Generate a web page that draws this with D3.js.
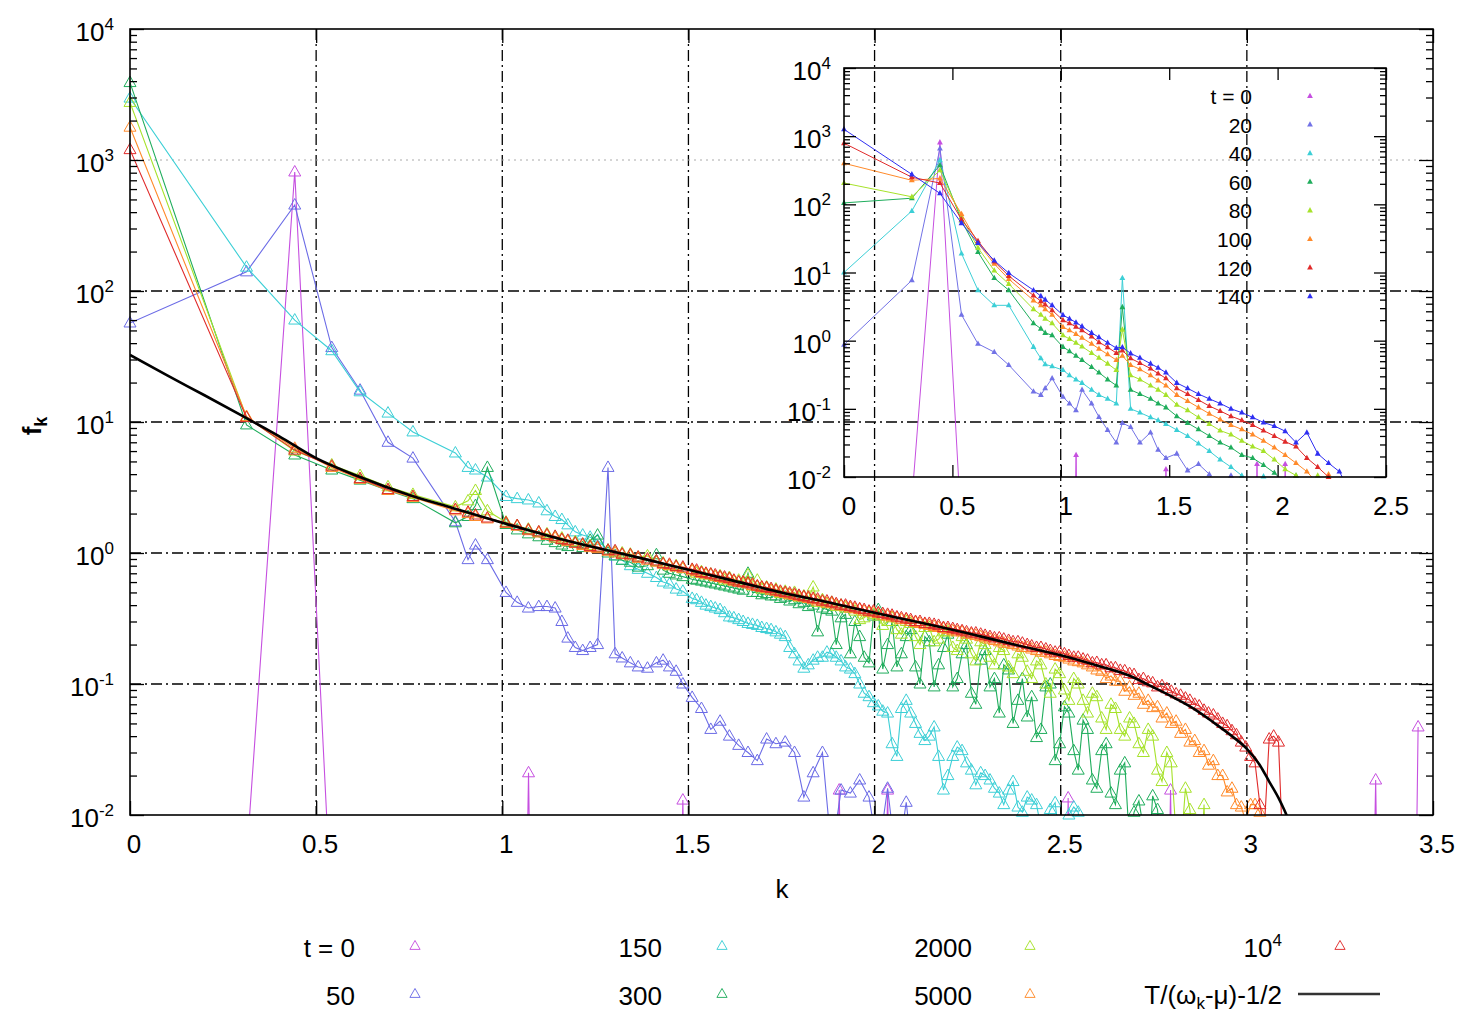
<!DOCTYPE html>
<html>
<head>
<meta charset="utf-8">
<script src="https://cdn.jsdelivr.net/npm/d3@7"></script>
<style>
  body { margin: 0; background: #fff; }
  svg text { font-family: "Liberation Sans", Arial, sans-serif; fill: #000; }
</style>
</head>
<body>
<script>
// momentum values shared by the main-panel series
var mainK = [0, 0.313, 0.4425, 0.542, 0.618, 0.693, 0.760, 0.874, 0.908, 0.928,
  0.960, 1.010, 1.040, 1.070, 1.098, 1.120, 1.142, 1.160, 1.176, 1.196,
  1.216, 1.236, 1.256, 1.284, 1.303, 1.322, 1.344, 1.365, 1.390, 1.414,
  1.432, 1.449, 1.467, 1.485, 1.51, 1.535, 1.56, 1.585, 1.61, 1.635,
  1.66, 1.685, 1.71, 1.735, 1.76, 1.785, 1.81, 1.835, 1.86, 1.885,
  1.91, 1.935, 1.96, 1.985, 2.01, 2.035, 2.06, 2.085, 2.11, 2.135,
  2.16, 2.185, 2.21, 2.235, 2.26, 2.285, 2.31, 2.335, 2.36, 2.385,
  2.41, 2.435, 2.46, 2.485, 2.51, 2.535, 2.56, 2.585, 2.61, 2.635,
  2.66, 2.685, 2.71, 2.735, 2.76, 2.785, 2.81, 2.835, 2.86, 2.885,
  2.91, 2.935, 2.96, 2.985, 3.01, 3.035, 3.06, 3.085, 3.11, 3.135];
// extra momenta in the dense high-k part
var midK = [1.522, 1.547, 1.572, 1.597, 1.622, 1.647, 1.672, 1.697, 1.722, 1.747,
  1.772, 1.797, 1.822, 1.847, 1.872, 1.897, 1.922, 1.947, 1.972, 1.997,
  2.022, 2.047, 2.072, 2.097, 2.122, 2.147, 2.172, 2.197, 2.222, 2.247,
  2.272, 2.297, 2.322, 2.347, 2.372, 2.397, 2.422, 2.447, 2.472, 2.497,
  2.522, 2.547, 2.572, 2.597, 2.622, 2.647, 2.672, 2.697, 2.722, 2.747,
  2.772, 2.797, 2.822, 2.847, 2.872, 2.897, 2.922, 2.947, 2.972, 2.997,
  3.022, 3.047, 3.072, 3.097];

// t = 0 : one occupied mode plus a few tiny spikes (k, f)
var t0Pts = [[0, 0.001], [0.313, 0.0046], [0.4425, 810], [0.542, 0.0016], [0.618, 0.0004],
  [1.06, 0.0003], [1.0705, 0.021], [1.08, 0.0003], [1.475, 0.0003], [1.485, 0.013], [1.495, 0.0003],
  [1.895, 0.0003], [1.905, 0.0155], [1.915, 0.0003], [2.025, 0.0003], [2.035, 0.0155], [2.045, 0.0003],
  [2.51, 0.0003], [2.52, 0.0135], [2.53, 0.0003], [2.785, 0.0003], [2.795, 0.0155], [2.805, 0.0003],
  [3.335, 0.0003], [3.346, 0.0185], [3.355, 0.0003], [3.45, 0.0003], [3.46, 0.047]];

var t50 = [57, 140, 453, 37, 17.5, 7.0, 5.3, 1.73, 0.89, 1.15,
  0.89, 0.5, 0.42, 0.38, 0.39, 0.39, 0.38, 0.30, 0.224, 0.19,
  0.18, 0.19, 0.2, 4.5, 0.17, 0.158, 0.145, 0.135, 0.132, 0.145,
  0.152, 0.135, 0.125, 0.10, 0.079, 0.065, 0.045, 0.052, 0.04, 0.034,
  0.03, 0.026, 0.038, 0.035, 0.036, 0.03, 0.0137, 0.021, 0.03, 0.005,
  0.0155, 0.0147, 0.0185, 0.0137, 0.005, 0.016, 0.004, 0.0125, 0.003, 0.0004];

var t150 = [2970, 152, 60, 35, 17, 11.7, 8.4, 5.8, 4.5, 4.3,
  3.8, 2.7, 2.6, 2.54, 2.41, 2.1, 1.9, 1.8, 1.64, 1.45,
  1.37, 1.32, 1.25, 1.05, 0.95, 0.88, 0.8, 0.75, 0.7, 0.65,
  0.6, 0.58, 0.53, 0.51, 0.45, 0.42, 0.39, 0.37, 0.325, 0.31,
  0.29, 0.28, 0.265, 0.25, 0.23, 0.17, 0.132, 0.152, 0.16, 0.17,
  0.15, 0.13, 0.10, 0.08, 0.068, 0.06, 0.028, 0.075, 0.05, 0.037,
  0.047, 0.0155, 0.028, 0.031, 0.022, 0.021, 0.0185, 0.0147, 0.0155, 0.0115,
  0.0137, 0.012, 0.009, 0.0124, 0.007, 0.0115, 0.004, 0.0004];
var t150b = [0.44, 0.40, 0.38, 0.35, 0.32, 0.30, 0.285, 0.27, 0.26, 0.24,
  0.19, 0.15, 0.14, 0.16, 0.175, 0.16, 0.135, 0.12, 0.085, 0.072,
  0.062, 0.035, 0.065, 0.06, 0.042, 0.04, 0.028, 0.02, 0.033, 0.025,
  0.017, 0.02, 0.016, 0.012, 0.018, 0.0105, 0.013, 0.008, 0.011, 0.0065,
  0.01, 0.0105, 0.0035, 0.0004];

var t300 = [3900, 9.5, 5.6, 4.3, 3.6, 3.0, 2.6, 1.7, 1.9, 2.3,
  4.5, 1.65, 1.5, 1.4, 1.33, 1.25, 1.2, 1.15, 1.12, 1.2,
  1.1, 1.25, 1.37, 1.0, 0.95, 0.88, 0.85, 0.78, 0.8, 0.97,
  0.74, 0.7, 0.68, 0.66, 0.63, 0.61, 0.59, 0.57, 0.55, 0.53,
  0.70, 0.50, 0.49, 0.47, 0.46, 0.44, 0.42, 0.40, 0.38, 0.36,
  0.32, 0.17, 0.23, 0.145, 0.37, 0.20, 0.135, 0.23, 0.135, 0.23,
  0.095, 0.19, 0.095, 0.17, 0.085, 0.152, 0.095, 0.060, 0.128, 0.075,
  0.056, 0.039, 0.095, 0.026, 0.067, 0.031, 0.053, 0.0185, 0.031, 0.0147,
  0.022, 0.006, 0.0128, 0.004, 0.011, 0.003, 0.0004];
var t300b = [0.62, 0.60, 0.58, 0.56, 0.54, 0.52, 0.50, 0.48, 0.47, 0.45,
  0.43, 0.41, 0.39, 0.25, 0.37, 0.20, 0.34, 0.30, 0.16, 0.33,
  0.13, 0.30, 0.17, 0.26, 0.10, 0.21, 0.14, 0.24, 0.11, 0.20,
  0.07, 0.18, 0.11, 0.14, 0.05, 0.11, 0.08, 0.045, 0.10, 0.035,
  0.06, 0.022, 0.045, 0.016, 0.035, 0.012, 0.025, 0.0105, 0.008, 0.014,
  0.004, 0.009, 0.0015, 0.0004];

var t2000 = [2750, 10.9, 6.0, 4.7, 3.9, 3.2, 2.8, 2.25, 2.5, 3.0,
  2.1, 1.72, 1.62, 1.52, 1.44, 1.4, 1.33, 1.3, 1.24, 1.22,
  1.16, 1.14, 1.1, 1.05, 1.02, 1.0, 0.98, 0.93, 0.95, 0.86,
  0.84, 0.8, 0.8, 0.76, 0.74, 0.72, 0.69, 0.67, 0.65, 0.62,
  0.68, 0.62, 0.55, 0.53, 0.51, 0.50, 0.47, 0.55, 0.44, 0.42,
  0.40, 0.38, 0.31, 0.35, 0.33, 0.30, 0.26, 0.30, 0.23, 0.27,
  0.21, 0.25, 0.19, 0.23, 0.17, 0.21, 0.16, 0.19, 0.135, 0.17,
  0.125, 0.15, 0.10, 0.13, 0.09, 0.11, 0.075, 0.085, 0.055, 0.07,
  0.045, 0.055, 0.035, 0.045, 0.022, 0.03, 0.007, 0.016, 0.004, 0.012,
  0.003, 0.0004];
var t2000b = [0.70, 0.68, 0.66, 0.62, 0.61, 0.60, 0.56, 0.53, 0.52, 0.49,
  0.48, 0.46, 0.45, 0.42, 0.41, 0.39, 0.38, 0.36, 0.32, 0.34,
  0.28, 0.32, 0.24, 0.29, 0.20, 0.27, 0.22, 0.25, 0.18, 0.22,
  0.15, 0.20, 0.14, 0.18, 0.12, 0.16, 0.11, 0.14, 0.085, 0.12,
  0.075, 0.10, 0.06, 0.08, 0.045, 0.065, 0.04, 0.05, 0.03, 0.04,
  0.018, 0.025, 0.005, 0.011, 0.002, 0.0004];

var t5000 = [1780, 11.0, 6.3, 4.5, 3.65, 3.0, 2.65, 2.1, 2.0, 1.9,
  1.82, 1.68, 1.6, 1.48, 1.42, 1.36, 1.3, 1.26, 1.22, 1.18,
  1.14, 1.1, 1.08, 1.03, 1.0, 0.97, 0.95, 0.91, 0.88, 0.85,
  0.82, 0.8, 0.78, 0.76, 0.73, 0.7, 0.68, 0.65, 0.63, 0.6,
  0.58, 0.555, 0.535, 0.51, 0.49, 0.475, 0.46, 0.44, 0.425, 0.41,
  0.395, 0.38, 0.37, 0.355, 0.345, 0.33, 0.32, 0.31, 0.295, 0.285,
  0.275, 0.265, 0.255, 0.25, 0.24, 0.23, 0.22, 0.21, 0.205, 0.195,
  0.19, 0.18, 0.175, 0.165, 0.16, 0.15, 0.145, 0.135, 0.125, 0.115,
  0.105, 0.095, 0.085, 0.075, 0.067, 0.06, 0.052, 0.045, 0.037, 0.031,
  0.026, 0.02, 0.016, 0.0115, 0.012, 0.0105, 0.005, 0.0004];
var t5000b = [0.72, 0.69, 0.66, 0.64, 0.61, 0.59, 0.565, 0.545, 0.52, 0.50,
  0.48, 0.465, 0.45, 0.43, 0.415, 0.40, 0.39, 0.375, 0.36, 0.35,
  0.335, 0.325, 0.31, 0.30, 0.29, 0.28, 0.27, 0.26, 0.25, 0.24,
  0.235, 0.225, 0.215, 0.205, 0.2, 0.19, 0.185, 0.175, 0.17, 0.162,
  0.155, 0.148, 0.14, 0.128, 0.11, 0.105, 0.088, 0.082, 0.07, 0.066,
  0.055, 0.05, 0.042, 0.036, 0.03, 0.024, 0.02, 0.015, 0.012, 0.009,
  0.012, 0.0065, 0.002, 0.0004];

var t10000 = [1200, 10.8, 6.1, 4.6, 3.7, 3.05, 2.7, 2.15, 2.05, 1.95,
  1.85, 1.7, 1.62, 1.5, 1.45, 1.38, 1.34, 1.27, 1.25, 1.19,
  1.17, 1.12, 1.11, 1.05, 1.04, 0.98, 0.97, 0.93, 0.9, 0.87,
  0.83, 0.82, 0.79, 0.78, 0.75, 0.71, 0.69, 0.66, 0.64, 0.6,
  0.59, 0.56, 0.545, 0.52, 0.5, 0.485, 0.465, 0.45, 0.43, 0.42,
  0.4, 0.39, 0.375, 0.36, 0.35, 0.34, 0.325, 0.315, 0.3, 0.29,
  0.285, 0.27, 0.265, 0.255, 0.245, 0.24, 0.23, 0.225, 0.215, 0.21,
  0.2, 0.19, 0.185, 0.175, 0.17, 0.16, 0.155, 0.145, 0.14, 0.133,
  0.127, 0.12, 0.108, 0.104, 0.095, 0.092, 0.084, 0.078, 0.07, 0.063,
  0.058, 0.05, 0.044, 0.036, 0.028, 0.012, 0.038, 0.036, 0.003, 0.0003];
var t10000b = [0.74, 0.70, 0.68, 0.655, 0.62, 0.60, 0.58, 0.55, 0.535, 0.51,
  0.495, 0.475, 0.46, 0.445, 0.43, 0.41, 0.40, 0.385, 0.37, 0.36,
  0.345, 0.335, 0.32, 0.31, 0.30, 0.29, 0.28, 0.27, 0.26, 0.25,
  0.245, 0.235, 0.225, 0.22, 0.21, 0.205, 0.195, 0.19, 0.18, 0.175,
  0.165, 0.16, 0.152, 0.146, 0.14, 0.133, 0.126, 0.118, 0.11, 0.102,
  0.097, 0.088, 0.082, 0.075, 0.068, 0.06, 0.054, 0.048, 0.041, 0.033,
  0.025, 0.008, 0.04, 0.005];

// T/(w_k - mu) - 1/2
var curveK = [0, 0.1, 0.2, 0.313, 0.4, 0.5, 0.618, 0.75, 0.868, 1.0, 1.125, 1.25, 1.375, 1.5,
  1.625, 1.75, 1.875, 2.0, 2.125, 2.25, 2.375, 2.5, 2.6, 2.68, 2.75, 2.81, 2.86, 2.91,
  2.96, 3.0, 3.035, 3.06, 3.085, 3.1, 3.112];
var curveF = [32.5, 22.7, 16, 10.7, 7.8, 5.3, 3.8, 2.77, 2.2, 1.7, 1.35, 1.1, 0.91, 0.745,
  0.61, 0.5, 0.42, 0.35, 0.293, 0.244, 0.2, 0.166, 0.138, 0.117, 0.094, 0.077, 0.064, 0.051,
  0.04, 0.032, 0.024, 0.018, 0.0135, 0.011, 0.0092];

// inset: early times
var inK = [0, 0.313, 0.4425, 0.542, 0.618, 0.693, 0.760, 0.874, 0.908, 0.928,
  0.960, 1.010, 1.040, 1.070, 1.098, 1.142, 1.176, 1.216, 1.256, 1.284,
  1.322, 1.365, 1.414, 1.449, 1.485, 1.535, 1.585, 1.635, 1.685, 1.735,
  1.785, 1.835, 1.885, 1.935, 1.985, 2.035, 2.085, 2.135, 2.185, 2.235,
  2.285, 2.335];
var in20 = [0.87, 7.7, 660, 2.4, 0.9, 0.68, 0.44, 0.18, 0.16, 0.2,
  0.28, 0.15, 0.12, 0.095, 0.19, 0.12, 0.076, 0.049, 0.032, 0.062,
  0.054, 0.032, 0.045, 0.025, 0.019, 0.022, 0.0125, 0.0155, 0.011, 0.006,
  0.0105, 0.003, 0.0005];
var in40 = [10, 80, 445, 19, 5.5, 3.3, 3.3, 0.81, 0.55, 0.45,
  0.42, 0.37, 0.31, 0.27, 0.24, 0.19, 0.16, 0.14, 0.12, 8.3,
  0.1, 0.088, 0.075, 0.068, 0.06, 0.049, 0.04, 0.031, 0.024, 0.018,
  0.014, 0.0105, 0.007, 0.0102, 0.004, 0.0005];
var in60 = [105, 123, 375, 58, 20, 8.3, 5.5, 1.8, 1.5, 1.3,
  1.2, 0.81, 0.7, 0.6, 0.52, 0.41, 0.34, 0.27, 0.22, 3.1,
  0.19, 0.165, 0.14, 0.12, 0.105, 0.078, 0.062, 0.05, 0.04, 0.032,
  0.027, 0.021, 0.019, 0.015, 0.0115, 0.008, 0.0105, 0.004, 0.0005];
var in80 = [205, 129, 316, 65, 23, 10.7, 6.8, 2.9, 2.4, 2.1,
  1.8, 1.2, 1.06, 0.93, 0.82, 0.66, 0.56, 0.46, 0.37, 1.45,
  0.31, 0.27, 0.22, 0.19, 0.16, 0.115, 0.095, 0.075, 0.06, 0.048,
  0.042, 0.034, 0.028, 0.024, 0.018, 0.013, 0.0105, 0.006, 0.0105, 0.003,
  0.0005];
var in100 = [400, 225, 240, 72, 27, 13.4, 8.0, 3.9, 3.3, 2.9,
  2.4, 1.58, 1.42, 1.25, 1.1, 0.9, 0.76, 0.63, 0.52, 0.6,
  0.44, 0.38, 0.31, 0.26, 0.22, 0.16, 0.13, 0.105, 0.085, 0.07,
  0.058, 0.05, 0.042, 0.034, 0.027, 0.021, 0.016, 0.012, 0.008, 0.011,
  0.004, 0.0015];
var in120 = [790, 250, 205, 60, 29, 14.5, 8.9, 4.6, 3.8, 3.4,
  2.8, 2.0, 1.8, 1.6, 1.42, 1.15, 0.95, 0.8, 0.66, 0.72,
  0.55, 0.47, 0.39, 0.33, 0.28, 0.2, 0.165, 0.135, 0.11, 0.093,
  0.078, 0.068, 0.058, 0.048, 0.04, 0.033, 0.028, 0.019, 0.014, 0.01,
  0.006, 0.002];
var in140 = [1260, 275, 145, 53, 27, 15, 9.8, 5.5, 4.5, 4.0,
  3.3, 2.37, 2.1, 1.85, 1.62, 1.3, 1.12, 0.93, 0.78, 0.8,
  0.65, 0.56, 0.46, 0.4, 0.34, 0.24, 0.2, 0.165, 0.14, 0.12,
  0.1, 0.088, 0.075, 0.063, 0.056, 0.047, 0.032, 0.045, 0.022, 0.016,
  0.012, 0.006];

var mainLabels = ['t = 0', '50', '150', '300', '2000', '5000', '10^4'];
var insetLabels = ['t = 0', '20', '40', '60', '80', '100', '120', '140'];
var mainColors = ['#c64fe0', '#6b6be6', '#3ccfd6', '#1fad5c', '#a6e22a', '#ff8a2a', '#e02a2a'];
var insetColors = ['#c64fe0', '#7272e6', '#3ccfd6', '#1fad5c', '#a6e22a', '#ff8a2a', '#e02a2a', '#2f2ff2'];
var xTicks = [0, 0.5, 1, 1.5, 2, 2.5, 3, 3.5];
var insetXTicks = [0, 0.5, 1, 1.5, 2, 2.5];
var yTicks = [1e-2, 1e-1, 1, 10, 100, 1000, 10000];
var yExps = ['-2', '-1', '0', '1', '2', '3', '4'];

var svg = d3.select('body').append('svg')
  .attr('width', 1460)
  .attr('height', 1015);
svg.append('rect').attr('width', 1460).attr('height', 1015).attr('fill', '#fff');

var x = d3.scaleLinear().domain([0, 3.5]).range([130, 1433]);
var y = d3.scaleLog().domain([1e-2, 1e4]).range([815, 29]);
var ix = d3.scaleLinear().domain([0, 2.5]).range([844, 1386]);
var iy = d3.scaleLog().domain([1e-2, 1e4]).range([477, 68]);

var defs = svg.append('defs');
defs.append('clipPath').attr('id', 'clipMain').append('rect')
  .attr('x', 130).attr('y', 29).attr('width', 1303).attr('height', 786);
defs.append('clipPath').attr('id', 'clipInset').append('rect')
  .attr('x', 844).attr('y', 68).attr('width', 542).attr('height', 409);

var triOpen = 'M0,-6.5L6,4L-6,4Z';
var triSmall = 'M0,-3.3L2.9,2L-2.9,2Z';

var pairs = function(vals, ks) {
  return vals.map(function(v, i) { return [ks[i], v]; });
};
var merged = function(a, b) {
  return pairs(a, mainK).concat(pairs(b, midK)).sort(function(p, q) { return p[0] - q[0]; });
};

// grid (main)
var dashDot = '11,4,2,4';
svg.append('g').selectAll('line').data([0.5, 1, 1.5, 2, 2.5, 3]).enter().append('line')
  .attr('x1', function(d) { return x(d); }).attr('x2', function(d) { return x(d); })
  .attr('y1', 29).attr('y2', 815)
  .attr('stroke', '#000').attr('stroke-width', 1.3).attr('stroke-dasharray', dashDot);
svg.append('g').selectAll('line').data([0.1, 1, 10, 100]).enter().append('line')
  .attr('x1', 130).attr('x2', 1433)
  .attr('y1', function(d) { return y(d); }).attr('y2', function(d) { return y(d); })
  .attr('stroke', '#000').attr('stroke-width', 1.3).attr('stroke-dasharray', dashDot);
svg.append('line').attr('x1', 130).attr('x2', 1433).attr('y1', y(1000)).attr('y2', y(1000))
  .attr('stroke', '#aaa').attr('stroke-width', 1).attr('stroke-dasharray', '2,4');

// main series
var mainData = [t0Pts, pairs(t50, mainK), merged(t150, t150b), merged(t300, t300b),
  merged(t2000, t2000b), merged(t5000, t5000b), merged(t10000, t10000b)];
var line = d3.line().x(function(d) { return x(d[0]); }).y(function(d) { return y(d[1]); });
var inMain = function(d) { return d[1] >= 0.0099 && d[1] <= 1e4 && d[0] <= 3.5; };

mainData.forEach(function(data, s) {
  var g = svg.append('g');
  g.append('path').datum(data)
    .attr('clip-path', 'url(#clipMain)')
    .attr('d', line)
    .attr('fill', 'none').attr('stroke', mainColors[s]).attr('stroke-width', 1.1);
  g.selectAll('path.pt').data(data.filter(inMain)).enter().append('path')
    .attr('class', 'pt')
    .attr('d', triOpen)
    .attr('transform', function(d) { return 'translate(' + x(d[0]) + ',' + y(d[1]) + ')'; })
    .attr('fill', 'none').attr('stroke', mainColors[s]).attr('stroke-width', 1);
});

// theory curve
var curveData = curveK.map(function(k, i) { return [k, curveF[i]]; });
svg.append('path').datum(curveData)
  .attr('clip-path', 'url(#clipMain)')
  .attr('d', line.curve(d3.curveMonotoneX))
  .attr('fill', 'none').attr('stroke', '#000').attr('stroke-width', 2.6);

// inset series
var insetData = [t0Pts, pairs(in20, inK), pairs(in40, inK), pairs(in60, inK), pairs(in80, inK),
  pairs(in100, inK), pairs(in120, inK), pairs(in140, inK)];
var iline = d3.line().x(function(d) { return ix(d[0]); }).y(function(d) { return iy(d[1]); });
var inInset = function(d) { return d[1] >= 0.0099 && d[1] <= 1e4 && d[0] <= 2.5; };
insetData.forEach(function(data, s) {
  var g = svg.append('g');
  g.append('path').datum(data)
    .attr('clip-path', 'url(#clipInset)')
    .attr('d', iline)
    .attr('fill', 'none').attr('stroke', insetColors[s]).attr('stroke-width', 1);
  g.selectAll('path.pt').data(data.filter(inInset)).enter().append('path')
    .attr('class', 'pt')
    .attr('d', triSmall)
    .attr('transform', function(d) { return 'translate(' + ix(d[0]) + ',' + iy(d[1]) + ')'; })
    .attr('fill', insetColors[s]);
});

// axes ticks, inward like gnuplot
var yMinor = y.ticks().filter(function(d) { return yTicks.indexOf(d) < 0; });
var tickAxis = function(axis, tx, ty) {
  var g = svg.append('g').attr('transform', 'translate(' + tx + ',' + ty + ')').call(axis);
  g.select('.domain').remove();
  g.selectAll('.tick line').attr('stroke', '#000').attr('stroke-width', 1.3);
  g.selectAll('.tick text').remove();
};
tickAxis(d3.axisLeft(y).tickValues(yTicks).tickSize(-14), 130, 0);
tickAxis(d3.axisLeft(y).tickValues(yMinor).tickSize(-7), 130, 0);
tickAxis(d3.axisRight(y).tickValues(yTicks).tickSize(-14), 1433, 0);
tickAxis(d3.axisRight(y).tickValues(yMinor).tickSize(-7), 1433, 0);
tickAxis(d3.axisBottom(x).tickValues(xTicks).tickSize(-14), 0, 815);
tickAxis(d3.axisTop(x).tickValues(xTicks).tickSize(-14), 0, 29);

tickAxis(d3.axisLeft(iy).tickValues(yTicks).tickSize(-12), 844, 0);
tickAxis(d3.axisLeft(iy).tickValues(yMinor).tickSize(-6), 844, 0);
tickAxis(d3.axisRight(iy).tickValues(yTicks).tickSize(-12), 1386, 0);
tickAxis(d3.axisRight(iy).tickValues(yMinor).tickSize(-6), 1386, 0);
tickAxis(d3.axisBottom(ix).tickValues(insetXTicks).tickSize(-12), 0, 477);
tickAxis(d3.axisTop(ix).tickValues(insetXTicks).tickSize(-12), 0, 68);

svg.append('rect').attr('x', 130).attr('y', 29).attr('width', 1303).attr('height', 786)
  .attr('fill', 'none').attr('stroke', '#000').attr('stroke-width', 1.6);
svg.append('rect').attr('x', 844).attr('y', 68).attr('width', 542).attr('height', 409)
  .attr('fill', 'none').attr('stroke', '#000').attr('stroke-width', 1.6);

// tick labels
var powLabel = function(sel, base, exp, size, sup) {
  sel.append('tspan').text(base);
  sel.append('tspan').attr('dy', -Math.round(size * 0.42)).attr('font-size', sup).text(exp);
};
yTicks.forEach(function(d, i) {
  var t = svg.append('text').attr('x', 114).attr('y', y(d) + 12)
    .attr('text-anchor', 'end').attr('font-size', 26);
  powLabel(t, '10', yExps[i], 26, 17);
  var t2 = svg.append('text').attr('x', 831).attr('y', iy(d) + 12)
    .attr('text-anchor', 'end').attr('font-size', 26);
  powLabel(t2, '10', yExps[i], 26, 17);
});
svg.append('g').selectAll('text').data(xTicks).enter().append('text')
  .attr('x', function(d) { return x(d) + 4; }).attr('y', 853)
  .attr('text-anchor', 'middle').attr('font-size', 26)
  .text(function(d) { return d; });
svg.append('g').selectAll('text').data(insetXTicks).enter().append('text')
  .attr('x', function(d) { return ix(d) + 5; }).attr('y', 515)
  .attr('text-anchor', 'middle').attr('font-size', 26)
  .text(function(d) { return d; });

// axis titles
svg.append('text').attr('x', 782).attr('y', 898).attr('text-anchor', 'middle')
  .attr('font-size', 26).text('k');
var yt = svg.append('text').attr('transform', 'translate(41,426) rotate(-90)')
  .attr('text-anchor', 'middle').attr('font-size', 26).attr('font-weight', 'bold');
yt.append('tspan').text('f');
yt.append('tspan').attr('dy', 6).attr('font-size', 18).text('k');

// main legend, column-major
var legTextX = [355, 662, 972, 1282];
var legMarkX = [415, 722, 1030, 1340];
var legRowY = [946, 994];
mainLabels.forEach(function(lab, i) {
  var col = Math.floor(i / 2), row = i % 2;
  var t = svg.append('text').attr('x', legTextX[col]).attr('y', legRowY[row] + 11)
    .attr('text-anchor', 'end').attr('font-size', 26);
  if (lab === '10^4') powLabel(t, '10', '4', 26, 17);
  else t.text(lab);
  svg.append('path').attr('d', triOpen)
    .attr('transform', 'translate(' + legMarkX[col] + ',' + legRowY[row] + ') scale(0.85)')
    .attr('fill', 'none').attr('stroke', mainColors[i]).attr('stroke-width', 1.1);
});
var ct = svg.append('text').attr('x', legTextX[3]).attr('y', legRowY[1] + 10)
  .attr('text-anchor', 'end').attr('font-size', 26);
ct.append('tspan').text('T/(\u03c9');
ct.append('tspan').attr('dy', 5).attr('font-size', 17).text('k');
ct.append('tspan').attr('dy', -5).text('-\u03bc)-1/2');
svg.append('line').attr('x1', 1298).attr('x2', 1380).attr('y1', legRowY[1]).attr('y2', legRowY[1])
  .attr('stroke', '#333').attr('stroke-width', 2.6);

// inset legend
insetLabels.forEach(function(lab, i) {
  var yy = 96 + i * 28.6;
  svg.append('text').attr('x', 1252).attr('y', yy + 8).attr('text-anchor', 'end')
    .attr('font-size', 21).text(lab);
  svg.append('path').attr('d', triSmall)
    .attr('transform', 'translate(1310,' + yy + ')')
    .attr('fill', insetColors[i]);
});
</script>
</body>
</html>
